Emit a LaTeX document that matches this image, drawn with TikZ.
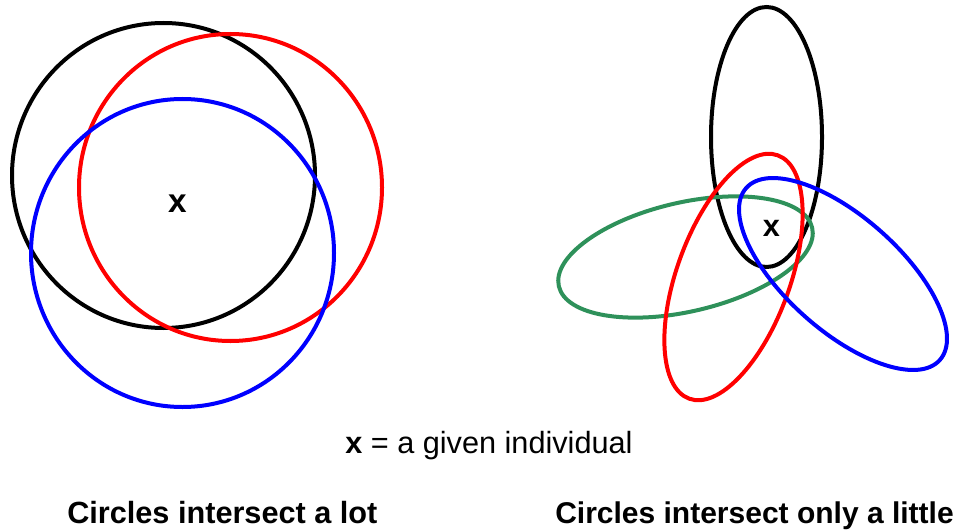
\documentclass[tikz,border=0pt]{standalone}
\usepackage{fontspec}
\setmainfont{Liberation Sans}
\definecolor{ringgreen}{RGB}{46,145,90}

\begin{document}
\begin{tikzpicture}[x=0.75pt,y=0.75pt,yscale=-1,xscale=1,
  ring/.style={line width=3pt},
  captext/.style={anchor=base west,inner sep=0pt,font=\fontsize{23}{28}\selectfont},
  indiv/.style={inner sep=0pt,font=\fontsize{25}{30}\selectfont\bfseries}]
\useasboundingbox (0,0) rectangle (959,531);

%Shape: Circle (black, left)
\draw [ring,color=black] (163.5,175.5) circle [x radius=151.5, y radius=152.5];
%Shape: Circle (red, left)
\draw [ring,color=red] (230.5,187.5) circle [x radius=151.5, y radius=153.5];
%Shape: Circle (blue, left)
\draw [ring,color=blue] (182.5,253) circle [x radius=151.5, y radius=154];

%Shape: Ellipse (black, right)
\draw [ring,color=black] (766.5,137) circle [x radius=55.5, y radius=130];
%Shape: Ellipse (green, right)
\draw [ring,color=ringgreen] (685.5,257) circle [x radius=130, y radius=54.5, rotate=-13];
%Shape: Ellipse (red, right)
\draw [ring,color=red] (733.5,277) circle [x radius=129.5, y radius=56.5, rotate=-70];
%Shape: Ellipse (blue, right)
\draw [ring,color=blue] (843,274) circle [x radius=129.5, y radius=57, rotate=41.6];

% Text Node
\node (leftx) [indiv] at (177.5,204) {x};
% Text Node
\node (rightx) [indiv,font=\fontsize{23}{28}\selectfont\bfseries] at (771.5,228) {x};
% Text Node
\node (legend) [captext] at (345,453) {\textbf{x} = a given individual};
% Text Node
\node (lotcap) [captext,font=\fontsize{23}{28}\selectfont\bfseries] at (67,523) {Circles intersect a lot};
% Text Node
\node (littlecap) [captext,font=\fontsize{22.5}{27}\selectfont\bfseries] at (555,523) {Circles intersect only a little};

\end{tikzpicture}
\end{document}
